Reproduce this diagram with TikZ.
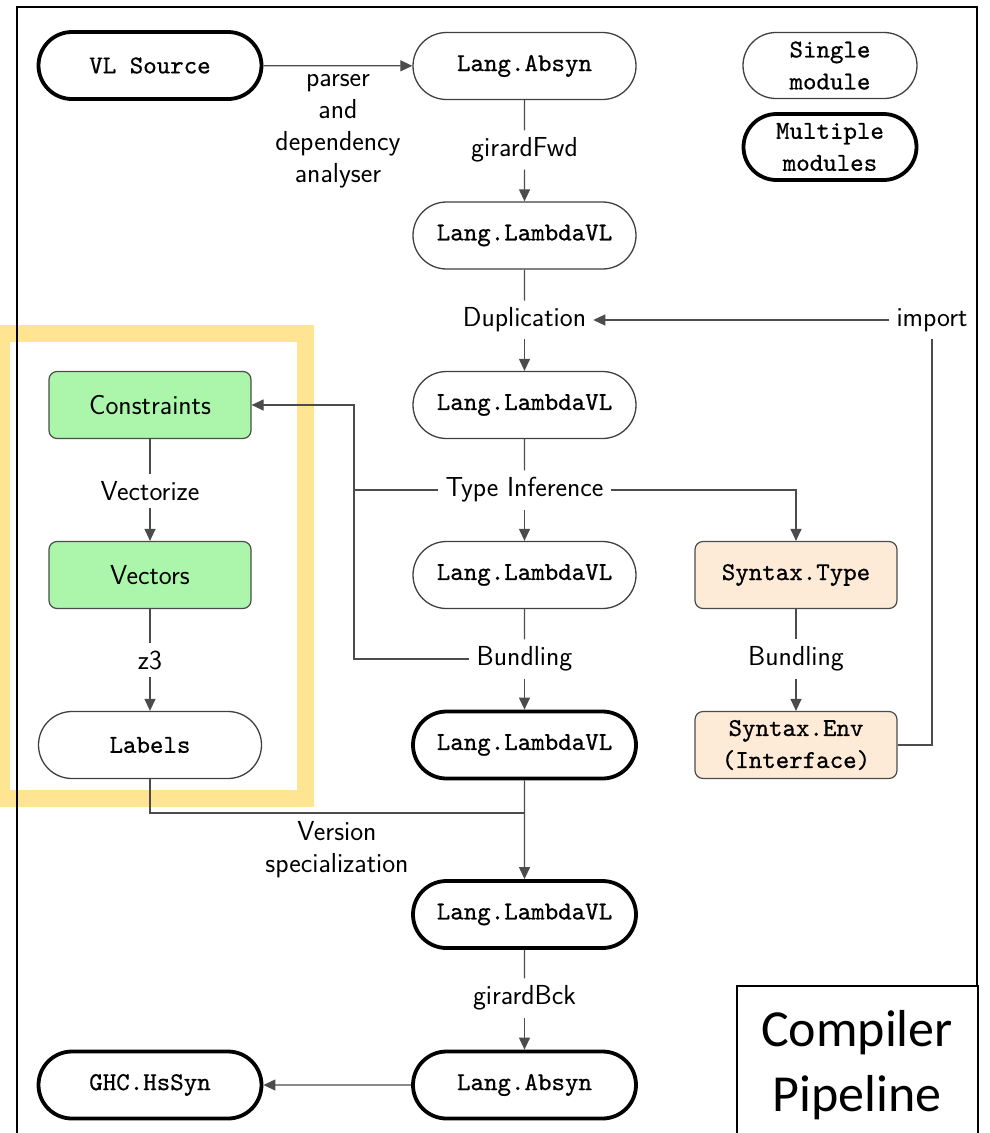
\documentclass[tikz,border=0pt]{standalone}
\usepackage{fontspec}
\setmonofont{lmmono10-regular.otf}[FakeBold=0.7]
\newfontfamily\calibrifont{Carlito}
\usetikzlibrary{shapes.misc,arrows.meta}
\definecolor{boxgreen}{RGB}{172,246,172}
\definecolor{boxorange}{RGB}{253,235,216}
\definecolor{hlyellow}{RGB}{255,229,145}
\begin{document}
\begin{tikzpicture}[x=1pt,y=-1pt,
  mod/.style={rounded rectangle, draw=black!75, line width=1.3pt, minimum width=223pt, minimum height=67pt, inner sep=0pt, align=center, font=\fontsize{25.7}{32}\selectfont\ttfamily},
  multimod/.style={mod, draw=black, line width=3.8pt},
  greenbox/.style={rectangle, rounded corners=8pt, draw=black!70, line width=1.2pt, fill=boxgreen, minimum width=202pt, minimum height=67pt, inner sep=0pt, align=center, font=\fontsize{27.5}{32}\selectfont\sffamily},
  orangebox/.style={greenbox, fill=boxorange, font=\fontsize{25.7}{32}\selectfont\ttfamily},
  lab/.style={inner sep=7pt, align=center, font=\fontsize{27.5}{32}\selectfont\sffamily},
  conn/.style={draw=black!70, line width=1.2pt},
  arr/.style={conn, -{Triangle[length=12pt,width=11pt]}}
]
\clip (0,0) rectangle (989,1133);
\useasboundingbox (0,0) rectangle (989,1133);
\fill[white] (0,0) rectangle (989,1133);
% highlight frame
\draw[hlyellow, line width=17pt] (1.5,333) rectangle (305.5,798.5);
% outer frame
\draw[black, line width=2pt] (17,7) rectangle (977,1150);
% compiler pipeline box
\node[draw=black, line width=1.5pt, fill=white, minimum width=241pt, minimum height=170pt, inner sep=0pt, anchor=north west] (cpbox) at (736,985) {};
\node[font=\fontsize{52}{65}\selectfont\calibrifont, align=center, inner sep=0pt] (cp) at (857,1065) {Compiler\\Pipeline};

% main column
\node[multimod] (src) at (150,65.5) {VL Source};
\node[mod] (absyn1) at (524.5,66) {Lang.Absyn};
\node[lab] (gf) at (524.5,150) {girardFwd};
\node[mod] (l1) at (524.5,235.5) {Lang.LambdaVL};
\node[lab] (dup) at (524.5,320) {Duplication};
\node[lab] (imp) at (932,320) {import};
\node[mod] (l2) at (524.5,405) {Lang.LambdaVL};
\node[lab] (ti) at (524.5,490) {Type Inference};
\node[mod] (l3) at (524.5,575) {Lang.LambdaVL};
\node[lab] (bund1) at (524.5,659) {Bundling};
\node[multimod] (l4) at (524.5,745) {Lang.LambdaVL};
\node[lab] (vs) at (337,850) {Version\\specialization};
\node[multimod] (l5) at (524.5,914.5) {Lang.LambdaVL};
\node[lab] (gb) at (524.5,998) {girardBck};
\node[multimod] (absyn2) at (524.5,1085) {Lang.Absyn};
\node[multimod] (ghc) at (150,1085) {GHC.HsSyn};
\node[lab] (pda) at (338,131) {parser\\and\\dependency\\analyser};

% legend
\node[mod, minimum width=174pt, minimum height=66pt] (single) at (830,65.5) {Single\\module};
\node[multimod, minimum width=173pt, minimum height=66pt] (multi) at (830,147) {Multiple\\modules};

% left column
\node[greenbox] (cons) at (150,405) {Constraints};
\node[lab] (vecz) at (150,491) {Vectorize};
\node[greenbox] (vec) at (150,575) {Vectors};
\node[lab] (z3) at (150,660) {z3};
\node[mod] (labels) at (150,745) {Labels};

% right column
\node[orangebox] (stype) at (796,575) {Syntax.Type};
\node[lab] (bund2) at (796,659) {Bundling};
\node[orangebox] (senv) at (796,745) {Syntax.Env\\(Interface)};

% junctions
\coordinate (jti) at (354,490);
\coordinate (jbu) at (354,659);
\coordinate (jvs) at (524.5,813);

% connectors
\draw[arr] (src) -- (absyn1);
\draw[conn] (absyn1) -- (gf);
\draw[arr] (gf) -- (l1);
\draw[conn] (l1) -- (dup);
\draw[arr] (dup) -- (l2);
\draw[arr] (imp) -- (dup);
\draw[conn] (senv.east) -| (imp.south);
\draw[conn] (l2) -- (ti);
\draw[arr] (ti) -- (l3);
\draw[arr] (ti.east) -| (stype.north);
\draw[arr] (ti.west) -- (jti) |- (cons.east);
\draw[conn] (bund1.west) -- (jbu) -- (jti);
\draw[conn] (l3) -- (bund1);
\draw[arr] (bund1) -- (l4);
\draw[conn] (stype) -- (bund2);
\draw[arr] (bund2) -- (senv);
\draw[conn] (cons) -- (vecz);
\draw[arr] (vecz) -- (vec);
\draw[conn] (vec) -- (z3);
\draw[arr] (z3) -- (labels);
\draw[conn] (labels.south) |- (jvs);
\draw[arr] (l4) -- (l5);
\draw[conn] (l5) -- (gb);
\draw[arr] (gb) -- (absyn2);
\draw[arr] (absyn2) -- (ghc);
\end{tikzpicture}
\end{document}
